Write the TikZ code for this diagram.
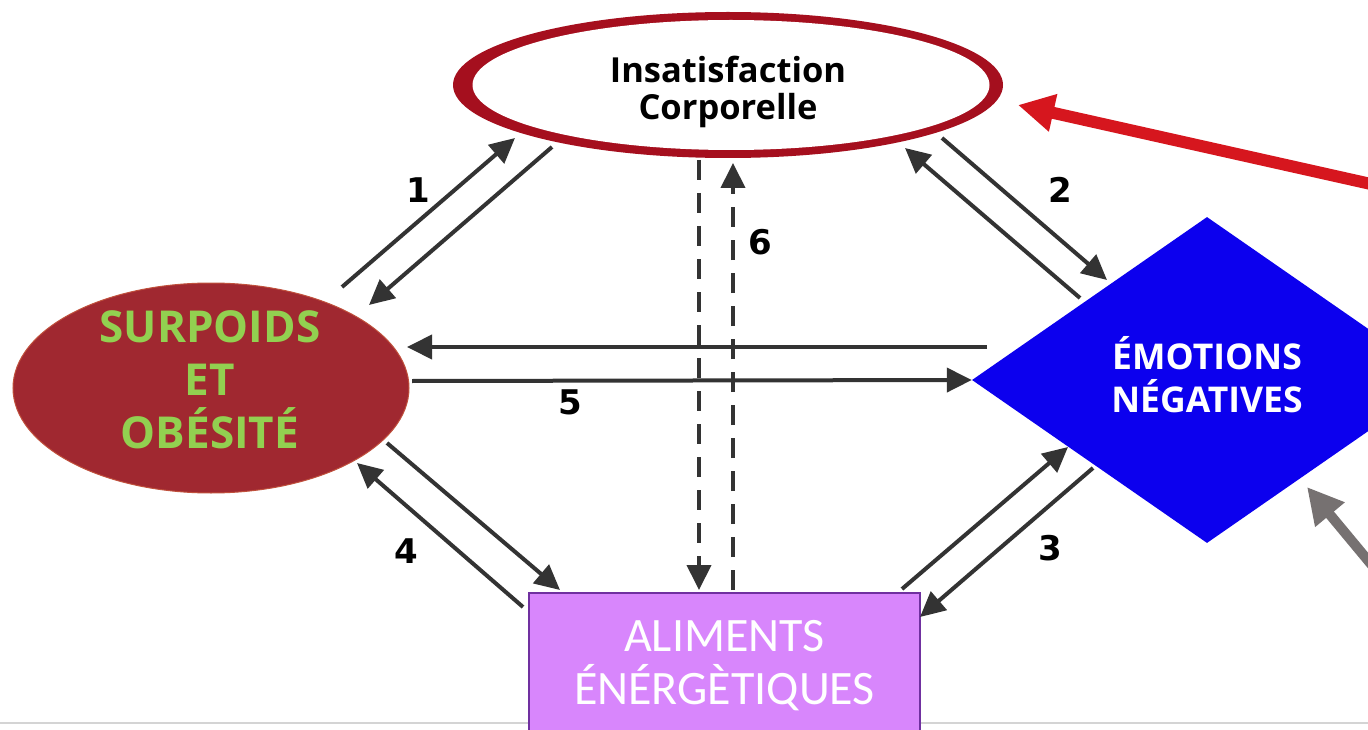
\documentclass[tikz,border=0pt]{standalone}
\usepackage{fontspec}
\setmainfont{Carlito}
\newfontfamily\boldsans{Open Sans}
\newfontfamily\numfont{DejaVu Sans}
\usetikzlibrary{shapes.geometric,arrows.meta}
\definecolor{ringred}{RGB}{165,15,30}
\definecolor{obered}{RGB}{160,40,48}
\definecolor{obeedge}{RGB}{192,80,60}
\definecolor{obegreen}{RGB}{146,208,80}
\definecolor{emoblue}{RGB}{12,0,238}
\definecolor{alifill}{RGB}{216,134,252}
\definecolor{aliborder}{RGB}{112,48,160}
\definecolor{arrowgrey}{RGB}{51,51,51}
\definecolor{bigred}{RGB}{214,22,30}
\definecolor{biggrey}{RGB}{118,113,113}
\definecolor{rulegrey}{RGB}{212,212,212}
\begin{document}
\begin{tikzpicture}[x=1pt,y=-1pt,
  link/.style={draw=arrowgrey, line width=4pt, -{Triangle[length=25pt,width=24pt]}},
  dlink/.style={link, dash pattern=on 20pt off 13pt},
  num/.style={font=\numfont\bfseries\fontsize{34}{34}\selectfont, inner sep=0pt},
  bigarrow/.style={line width=#1, -{Triangle[length=36pt,width=36pt]}},
  label text/.style={inner sep=0pt, anchor=base, align=center},
]
\path[use as bounding box] (0,0) rectangle (1368,730);
\clip (0,0) rectangle (1368,730);
\fill[white] (0,0) rectangle (1368,730);
\draw[rulegrey, line width=1.2pt] (0,723) -- (1368,723);

% top ellipse (ring)
\fill[ringred] (728,85) ellipse [x radius=275pt, y radius=73pt];
\node[ellipse, fill=white, minimum width=517pt, minimum height=130pt, inner sep=0pt] (ins) at (731,85) {};
\node[label text, font=\boldsans\bfseries\fontsize{34.5}{37}\selectfont] (inst) at (728,120)
  {Insatisfaction\\Corporelle};

% left ellipse
\node[ellipse, fill=obered, draw=obeedge, line width=1pt, minimum width=396pt,
  minimum height=210pt, inner sep=0pt] (obe) at (211,388) {};
\node[label text, text=obegreen, font=\boldsans\bfseries\fontsize{44}{53}\selectfont] (obet) at (210,448)
  {SURPOIDS\\ET\\OBÉSITÉ};

% diamond
\node[diamond, fill=emoblue, minimum width=470pt, minimum height=326pt, inner sep=0pt] (emo) at (1207,380) {};
\node[label text, text=white, font=\boldsans\bfseries\fontsize{35.5}{43}\selectfont] (emot) at (1207,412)
  {ÉMOTIONS\\NÉGATIVES};

% rectangle
\node[rectangle, fill=alifill, draw=aliborder, line width=2pt, minimum width=391pt,
  minimum height=146pt, anchor=north west, inner sep=0pt, align=center, text=white,
  font=\fontsize{48}{53}\selectfont] (ali) at (528,592)
  {ALIMENTS\\ÉNÉRGÈTIQUES};

% connector end points
\coordinate (a1s) at (342,287); \coordinate (a1e) at (515,138);
\coordinate (b1s) at (552,147); \coordinate (b1e) at (369,305);
\coordinate (a2s) at (1080,298); \coordinate (a2e) at (905,148);
\coordinate (b2s) at (942,138); \coordinate (b2e) at (1107,280);
\coordinate (a5s) at (987,347); \coordinate (a5e) at (407,347);
\coordinate (b5s) at (412,381);
\coordinate (a4s) at (387,443); \coordinate (a4e) at (560,590);
\coordinate (b4s) at (523,607); \coordinate (b4e) at (357,463);
\coordinate (a3s) at (902,589); \coordinate (a3e) at (1068,447);
\coordinate (b3s) at (1093,468); \coordinate (b3e) at (920,617);
\coordinate (a6s) at (699,160); \coordinate (a6e) at (699,590);
\coordinate (b6s) at (733,590); \coordinate (b6e) at (733,163);
\coordinate (redstart) at (1420,195); \coordinate (redtip) at (1018,105);
\coordinate (greystart) at (1400,599); \coordinate (greytip) at (1307,487);

\draw[link] (a1s) -- (a1e);
\draw[link] (b1s) -- (b1e);
\draw[link] (a2s) -- (a2e);
\draw[link] (b2s) -- (b2e);
\draw[link] (a5s) -- (a5e);
\draw[link] (b5s) -- (emo.west);
\draw[link] (a4s) -- (a4e);
\draw[link] (b4s) -- (b4e);
\draw[link] (a3s) -- (a3e);
\draw[link] (b3s) -- (b3e);
\draw[dlink] (a6s) -- (a6e);
\draw[dlink] (b6s) -- (b6e);

\draw[bigarrow=12pt, draw=bigred, fill=bigred] (redstart) -- (redtip);
\draw[bigarrow=10pt, draw=biggrey, fill=biggrey] (greystart) -- (greytip);

% labels
\node[num] (n1) at (418,190) {1};
\node[num] (n2) at (1060,190) {2};
\node[num] (n3) at (1050,548) {3};
\node[num] (n4) at (406,551) {4};
\node[num] (n5) at (570,402) {5};
\node[num] (n6) at (760,242) {6};
\end{tikzpicture}
\end{document}
